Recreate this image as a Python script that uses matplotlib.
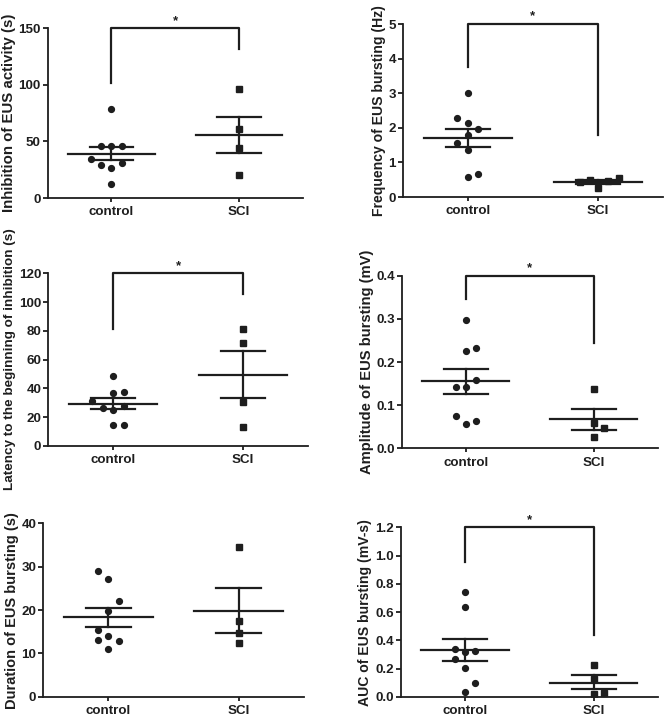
import matplotlib.pyplot as plt
import numpy as np

plt.rcParams['font.family'] = ['Liberation Sans', 'DejaVu Sans']
plt.rcParams['font.weight'] = 'bold'

groups = ['control', 'SCI']

# inhibition of EUS activity (s)
inh_ctrl = [78.4, 46.3, 46.3, 46.3, 34.2, 29.5, 30.9, 26.8, 12.7]
inh_ctrl_dx = [0, -0.08, 0, 0.08, -0.16, -0.08, 0.08, 0, 0]
inh_sci = [96.7, 60.7, 44.2, 20.3]
inh_sci_dx = [0, 0, 0, 0]
inh_mean = [38.9, 55.7]
inh_sem = [(33.3, 45.4), (39.8, 71.9)]

# frequency of EUS bursting (Hz)
freq_ctrl = [3.02, 2.28, 2.15, 1.96, 1.80, 1.56, 1.37, 0.58, 0.66]
freq_ctrl_dx = [0, -0.08, 0, 0.08, 0, -0.08, 0, 0, 0.08]
freq_sci = [0.44, 0.50, 0.26, 0.45, 0.54]
freq_sci_dx = [-0.14, -0.06, 0, 0.08, 0.16]
freq_mean = [1.70, 0.43]
freq_sem = [(1.45, 1.96), (0.39, 0.48)]

# latency to beginning of inhibition (s)
lat_ctrl = [48.8, 36.8, 37.5, 31.4, 26.4, 25.0, 28.0, 14.3, 14.3]
lat_ctrl_dx = [0, 0, 0.08, -0.16, -0.08, 0, 0.08, 0, 0.08]
lat_sci = [81.2, 71.5, 30.8, 13.4]
lat_sci_dx = [0, 0, 0, 0]
lat_mean = [28.9, 49.5]
lat_sem = [(25.4, 33.1), (33.3, 65.7)]

# amplitude of EUS bursting (mV)
amp_ctrl = [0.298, 0.226, 0.232, 0.159, 0.143, 0.143, 0.075, 0.056, 0.063]
amp_ctrl_dx = [0, 0, 0.08, 0.08, -0.08, 0, -0.08, 0, 0.08]
amp_sci = [0.138, 0.058, 0.047, 0.026]
amp_sci_dx = [0, 0, 0.08, 0]
amp_mean = [0.155, 0.067]
amp_sem = [(0.126, 0.183), (0.042, 0.091)]

# duration of EUS bursting (s)
dur_ctrl = [29.0, 27.1, 22.0, 19.8, 15.4, 14.1, 13.0, 12.8, 11.0]
dur_ctrl_dx = [-0.08, 0, 0.08, 0, -0.08, 0, -0.08, 0.08, 0]
dur_sci = [34.5, 17.4, 14.8, 12.3]
dur_sci_dx = [0, 0, 0, 0]
dur_mean = [18.3, 19.9]
dur_sem = [(16.1, 20.5), (14.8, 25.0)]

# AUC of EUS bursting (mV-s)
auc_ctrl = [0.744, 0.640, 0.336, 0.318, 0.322, 0.268, 0.202, 0.099, 0.038]
auc_ctrl_dx = [0, 0, -0.08, 0, 0.08, -0.08, 0, 0.08, 0]
auc_sci = [0.226, 0.125, 0.021, 0.031]
auc_sci_dx = [0, 0, 0, 0.08]
auc_mean = [0.332, 0.101]
auc_sem = [(0.254, 0.409), (0.054, 0.153)]

INK = '#1e1e1e'


def panel(ax, ctrl, ctrl_dx, sci, sci_dx, means, sems, yticks, fmt, ylabel,
          bracket=None, label_size=10.8):
    ax.plot(np.array(ctrl_dx), ctrl, 'o', ms=4.2, color=INK, zorder=3)
    ax.plot(1 + np.array(sci_dx), sci, 's', ms=4.0, color=INK, zorder=3)
    for i in range(2):
        ax.plot([i - 0.34, i + 0.34], [means[i]] * 2, color=INK, lw=1.6)
        lo, hi = sems[i]
        ax.plot([i - 0.17, i + 0.17], [lo, lo], color=INK, lw=1.6)
        ax.plot([i - 0.17, i + 0.17], [hi, hi], color=INK, lw=1.6)
        ax.plot([i, i], [lo, hi], color=INK, lw=1.6)
    if bracket is not None:
        top, left_end, right_end = bracket
        ax.plot([0, 0, 1, 1], [left_end, top, top, right_end], color=INK, lw=1.6,
                clip_on=False)
        ax.annotate('*', (0.5, top), xytext=(0, 1), textcoords='offset points',
                    ha='center', va='bottom', fontsize=9.5, color=INK)
    ax.set_xlim(-0.5, 1.5)
    ax.set_ylim(yticks[0], yticks[-1])
    ax.set_yticks(yticks)
    ax.set_yticklabels([fmt.format(t) for t in yticks])
    ax.set_xticks([0, 1])
    ax.set_xticklabels(groups)
    ax.set_ylabel(ylabel, fontsize=label_size, fontweight='bold', color=INK, labelpad=2)
    for s in ['top', 'right']:
        ax.spines[s].set_visible(False)
    for s in ['left', 'bottom']:
        ax.spines[s].set_linewidth(1.3)
        ax.spines[s].set_color(INK)
    ax.tick_params(axis='both', direction='out', width=1.3, color=INK,
                   labelsize=9.6, labelcolor=INK)
    ax.tick_params(axis='y', length=3.5, pad=1.5)
    ax.tick_params(axis='x', length=3, pad=3)


fig = plt.figure(figsize=(6.66, 7.19), dpi=100)

ax1 = fig.add_axes([0.0716, 0.7246, 0.383, 0.236])
panel(ax1, inh_ctrl, inh_ctrl_dx, inh_sci, inh_sci_dx, inh_mean, inh_sem,
      [0, 50, 100, 150], '{:.0f}', 'Inhibition of EUS activity (s)', (150, 102, 132),
      label_size=10.8)

ax2 = fig.add_axes([0.605, 0.726, 0.39, 0.2406])
panel(ax2, freq_ctrl, freq_ctrl_dx, freq_sci, freq_sci_dx, freq_mean, freq_sem,
      [0, 1, 2, 3, 4, 5], '{:.0f}', 'Frequency of EUS bursting (Hz)', (5, 3.77, 1.79),
      label_size=10.1)

ax3 = fig.add_axes([0.0725, 0.380, 0.390, 0.2398])
panel(ax3, lat_ctrl, lat_ctrl_dx, lat_sci, lat_sci_dx, lat_mean, lat_sem,
      [0, 20, 40, 60, 80, 100, 120], '{:.0f}',
      'Latency to the beginning of inhibition (s)', (120, 81, 105.4),
      label_size=9.7)

ax4 = fig.add_axes([0.6036, 0.3765, 0.384, 0.240])
panel(ax4, amp_ctrl, amp_ctrl_dx, amp_sci, amp_sci_dx, amp_mean, amp_sem,
      [0, 0.1, 0.2, 0.3, 0.4], '{:.1f}', 'Amplitude of EUS bursting (mV)',
      (0.4, 0.347, 0.245), label_size=10.6)

ax5 = fig.add_axes([0.065, 0.031, 0.391, 0.241])
panel(ax5, dur_ctrl, dur_ctrl_dx, dur_sci, dur_sci_dx, dur_mean, dur_sem,
      [0, 10, 20, 30, 40], '{:.0f}', 'Duration of EUS bursting (s)',
      label_size=10.5)

ax6 = fig.add_axes([0.602, 0.0306, 0.386, 0.236])
panel(ax6, auc_ctrl, auc_ctrl_dx, auc_sci, auc_sci_dx, auc_mean, auc_sem,
      [0, 0.2, 0.4, 0.6, 0.8, 1.0, 1.2], '{:.1f}', 'AUC of EUS bursting (mV-s)',
      (1.2, 0.957, 0.438), label_size=10.1)

fig.savefig('out.png', dpi=100)
